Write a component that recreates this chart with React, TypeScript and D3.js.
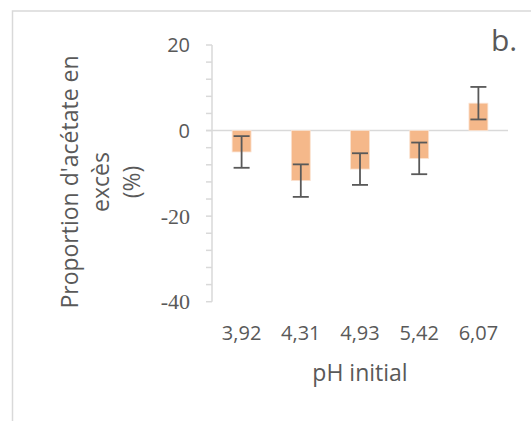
import React from 'react';
import * as d3 from 'd3';

// pH values (categories) and excess acetate proportion (%)
const phLabels = ['3,92', '4,31', '4,93', '5,42', '6,07'];
const excessValues = [-5.0, -11.7, -9.0, -6.5, 6.4];
const errorValues = [3.7, 3.8, 3.7, 3.7, 3.8];
const majorTicks = [20, 0, -20, -40];
const minorTicks = d3.range(-40, 21, 4);

const W = 531;
const H = 421;
const grey = '#d9d9d9';
const textCol = '#595959';
const sans = "Open Sans";
const serif = "Liberation Serif";

const App = () => {
  // plot area
  const left = 212, right = 508, top = 45, bottom = 301.7;

  const x = d3.scaleBand<string>()
    .domain(phLabels)
    .range([left, right])
    .paddingInner(0.68)
    .paddingOuter(0.34);

  const y = d3.scaleLinear().domain([-40, 20]).range([bottom, top]);

  const cap = 8;

  return (
    <svg width={W} height={H} style={{ position: 'absolute', left: 0, top: 0, background: '#fff' }}>
      {/* chart frame */}
      <rect x={12.5} y={11} width={600} height={500} fill="#fff" stroke={grey} strokeWidth={1.5} />

      {/* y axis with minor ticks */}
      <line x1={left} x2={left} y1={y(20)} y2={y(-40)} stroke={grey} strokeWidth={1.5} />
      {minorTicks.map(t => (
        <line key={t} x1={left - 6} x2={left} y1={y(t)} y2={y(t)} stroke={grey} strokeWidth={1.5} />
      ))}
      {majorTicks.map(t => (
        <text key={t} x={190} y={y(t)} dy="0.35em" textAnchor="end" fill={textCol}
          fontFamily={t < 0 ? serif : sans} fontSize={t < 0 ? 22 : 20}>
          {t}
        </text>
      ))}

      {/* zero line */}
      <line x1={left - 6} x2={right} y1={y(0)} y2={y(0)} stroke={grey} strokeWidth={1.5} />

      {/* bars */}
      {phLabels.map((p, i) => {
        const v = excessValues[i];
        return (
          <rect key={p} x={x(p)} y={Math.min(y(v), y(0))} width={x.bandwidth()}
            height={Math.abs(y(v) - y(0))} fill="#F5B88A" stroke="#fbe3d2" strokeWidth={0.8} />
        );
      })}

      {/* error bars */}
      {phLabels.map((p, i) => {
        const cx = (x(p) as number) + x.bandwidth() / 2;
        const hi = y(excessValues[i] + errorValues[i]);
        const lo = y(excessValues[i] - errorValues[i]);
        return (
          <g key={p} stroke={textCol} strokeWidth={1.8}>
            <line x1={cx} x2={cx} y1={hi} y2={lo} />
            <line x1={cx - cap} x2={cx + cap} y1={hi} y2={hi} />
            <line x1={cx - cap} x2={cx + cap} y1={lo} y2={lo} />
          </g>
        );
      })}

      {/* x tick labels */}
      {phLabels.map(p => (
        <text key={p} x={(x(p) as number) + x.bandwidth() / 2} y={340} textAnchor="middle"
          fill={textCol} fontFamily={sans} fontSize={20}>
          {p}
        </text>
      ))}

      {/* axis titles */}
      <text x={(left + right) / 2} y={381} textAnchor="middle" fill={textCol} fontFamily={sans} fontSize={23}>
        pH initial
      </text>
      <text transform="translate(0,182) rotate(-90)" textAnchor="middle" fill={textCol} fontFamily={sans} fontSize={23}>
        <tspan x={0} y={78}>Proportion d'acétate en</tspan>
        <tspan x={0} y={109}>excès</tspan>
        <tspan x={0} y={140}>(%)</tspan>
      </text>

      {/* panel label */}
      <text x={491} y={51} fill={textCol} fontFamily={sans} fontSize={30}>b.</text>
    </svg>
  );
};

export default App;
